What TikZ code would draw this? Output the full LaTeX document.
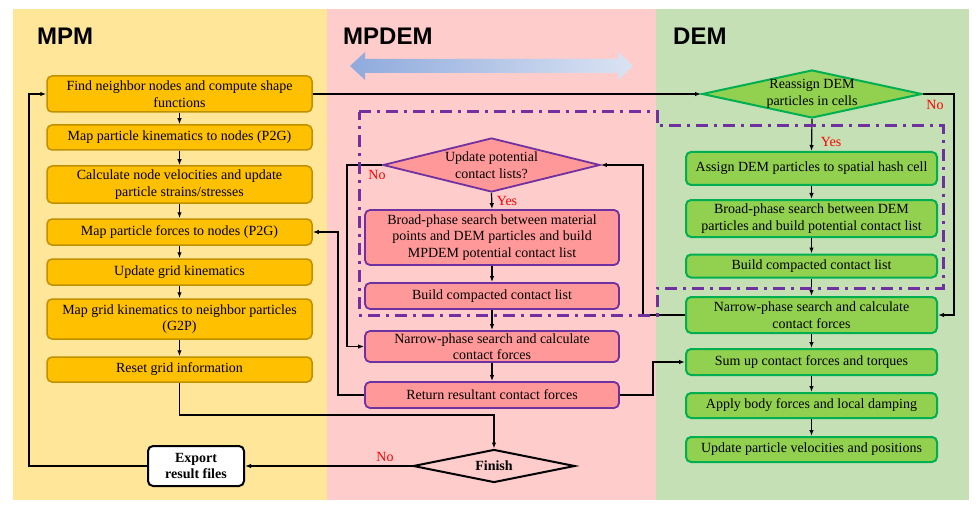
\documentclass[tikz,border=0pt]{standalone}
\usepackage{fontspec}
\setmainfont{Liberation Serif}
\setsansfont{Liberation Sans}
\usetikzlibrary{shapes.geometric,arrows.meta,calc}
\definecolor{panY}{HTML}{FFE699}
\definecolor{panP}{HTML}{FFCCCC}
\definecolor{panG}{HTML}{C5E0B4}
\definecolor{boxY}{HTML}{FFC000}
\definecolor{bdrY}{HTML}{BF9000}
\definecolor{boxP}{HTML}{FF9999}
\definecolor{bdrP}{HTML}{7030A0}
\definecolor{boxG}{HTML}{92D050}
\definecolor{bdrG}{HTML}{00B050}
\definecolor{arrL}{HTML}{8FAADC}
\definecolor{arrR}{HTML}{DAE3F3}
\definecolor{lblR}{HTML}{FF0000}
\begin{document}
\begin{tikzpicture}[x=1pt,y=-1pt,
  every node/.style={font=\fontsize{14}{16.5}\selectfont},
  box/.style={rectangle, rounded corners=5pt, align=center, inner sep=0pt},
  ybox/.style={box, fill=boxY, draw=bdrY, line width=1.5pt, minimum width=265pt},
  pbox/.style={box, fill=boxP, draw=bdrP, line width=1.8pt, minimum width=254pt},
  gbox/.style={box, fill=boxG, draw=bdrG, line width=2pt, minimum width=251pt},
  dia/.style={diamond, inner sep=0pt},
  conn/.style={line width=1.2pt, draw=black},
  arr/.style={conn, -{Latex[length=6pt,width=4.5pt]}},
  lbl/.style={text=lblR, inner sep=0pt},
  title/.style={font=\fontsize{24}{28}\selectfont\sffamily\bfseries, anchor=base west, inner sep=0pt},
  dashdot/.style={draw=bdrP, line width=3pt, dash pattern=on 12pt off 6pt on 3pt off 6pt}
]
\useasboundingbox (0,0) rectangle (979,513);
% panels
\fill[panY] (13,9) rectangle (327,500);
\fill[panP] (327,9) rectangle (656,500);
\fill[panG] (656,9) rectangle (969,500);
% titles
\node[title] (tmpm) at (37,45) {MPM};
\node[title] (tmpdem) at (343,45) {MPDEM};
\node[title] (tdem) at (673,45) {DEM};
% gradient double arrow
\shade[left color=arrL, right color=arrR] (350,66) -- (365,52) -- (365,59) -- (618,59) -- (618,52) -- (633,66) -- (618,80) -- (618,73) -- (365,73) -- (365,80) -- cycle;
% MPM boxes
\node[ybox, minimum height=36pt] (m1) at (179.5,94) {Find neighbor nodes and compute shape\\functions};
\node[ybox, minimum height=25pt] (m2) at (179.5,137.5) {Map particle kinematics to nodes (P2G)};
\node[ybox, minimum height=37pt] (m3) at (179.5,184.5) {Calculate node velocities and update\\particle strains/stresses};
\node[ybox, minimum height=26pt] (m4) at (179.5,232) {Map particle forces to nodes (P2G)};
\node[ybox, minimum height=26pt] (m5) at (179.5,272) {Update grid kinematics};
\node[ybox, minimum height=40pt] (m6) at (179.5,319) {Map grid kinematics to neighbor particles\\(G2P)};
\node[ybox, minimum height=25pt] (m7) at (179.5,369.5) {Reset grid information};
\node[box, fill=white, draw=black, line width=2pt, minimum width=96pt, minimum height=40pt, font=\fontsize{14}{16.5}\selectfont\bfseries] (exp) at (196,466) {Export\\result files};
\node[dia, draw=black, line width=2pt, minimum width=162pt, minimum height=33pt,
  label={[font=\fontsize{14}{16.5}\selectfont\bfseries]center:Finish}] (fin) at (494,466) {};
% MPDEM
\node[dia, fill=boxP, draw=bdrP, line width=1.8pt, minimum width=217pt, minimum height=54pt,
  label={[align=center]center:Update potential\\contact lists?}] (upd) at (491.5,165) {};
\node[pbox, minimum height=55pt] (p1) at (492,237.5) {Broad-phase search between material\\points and DEM particles and build\\MPDEM potential contact list};
\node[pbox, minimum height=26pt] (p2) at (492,296) {Build compacted contact list};
\node[pbox, minimum height=31pt] (p3) at (492,346.5) {Narrow-phase search and calculate\\contact forces};
\node[pbox, minimum height=26pt] (p4) at (492,395) {Return resultant contact forces};
% DEM
\node[dia, fill=boxG, draw=bdrG, line width=2pt, minimum width=220pt, minimum height=48pt,
  label={[align=center]center:Reassign DEM\\particles in cells}] (rea) at (812,94) {};
\node[gbox, minimum height=33pt] (d1) at (811.5,168.5) {Assign DEM particles to spatial hash cell};
\node[gbox, minimum height=37pt] (d2) at (811.5,218.5) {Broad-phase search between DEM\\particles and build potential contact list};
\node[gbox, minimum height=23pt] (d3) at (811.5,266) {Build compacted contact list};
\node[gbox, minimum height=36pt] (d4) at (811.5,315) {Narrow-phase search and calculate\\contact forces};
\node[gbox, minimum height=26pt] (d5) at (811.5,362) {Sum up contact forces and torques};
\node[gbox, minimum height=25pt] (d6) at (811.5,405.5) {Apply body forces and local damping};
\node[gbox, minimum height=25pt] (d7) at (811.5,449.5) {Update particle velocities and positions};
% waypoints
\coordinate (wA) at (29,466);
\coordinate (wB) at (954,94);
\coordinate (wC) at (643,315);
\coordinate (wD) at (347,165);
\coordinate (wE) at (338,395);
\coordinate (wF) at (653,395);
\coordinate (wG) at (179.5,415);
% connectors
\draw[arr] (m1.south) -- (m2.north);
\draw[arr] (m2.south) -- (m3.north);
\draw[arr] (m3.south) -- (m4.north);
\draw[arr] (m4.south) -- (m5.north);
\draw[arr] (m5.south) -- (m6.north);
\draw[arr] (m6.south) -- (m7.north);
\draw[arr] (m7.south) -- (wG) -| (fin.north);
\draw[arr] (fin.west) -- (exp.east);
\draw[arr] (exp.west) -- (wA) |- (m1.west);
\draw[arr] (m1.east) -- (rea.west);
\draw[arr] (rea.east) -- (wB) |- (d4.east);
\draw[arr] (rea.south) -- (d1.north);
\draw[arr] (d1.south) -- (d2.north);
\draw[arr] (d2.south) -- (d3.north);
\draw[arr] (d3.south) -- (d4.north);
\draw[arr] (d4.south) -- (d5.north);
\draw[arr] (d5.south) -- (d6.north);
\draw[arr] (d6.south) -- (d7.north);
\draw[arr] (d4.west) -- (wC) |- (upd.east);
\draw[arr] (upd.west) -- (wD) |- (p3.west);
\draw[arr] (upd.south) -- (p1.north);
\draw[arr] (p1.south) -- (p2.north);
\draw[arr] (p2.south) -- (p3.north);
\draw[arr] (p3.south) -- (p4.north);
\draw[arr] (p4.west) -- (wE) |- (m4.east);
\draw[arr] (p4.east) -- (wF) |- (d5.west);
% dash-dot region
\draw[dashdot] (359,112) -- (657,112) -- (657,126) -- (943,126) -- (943,288) -- (657,288) -- (657,315) -- (359,315) -- cycle;
% labels
\node[lbl] (no1) at (385,457) {No};
\node[lbl] (no2) at (935,105) {No};
\node[lbl] (yes1) at (831,142) {Yes};
\node[lbl] (no3) at (377,175) {No};
\node[lbl] (yes2) at (507,201) {Yes};
\end{tikzpicture}
\end{document}
